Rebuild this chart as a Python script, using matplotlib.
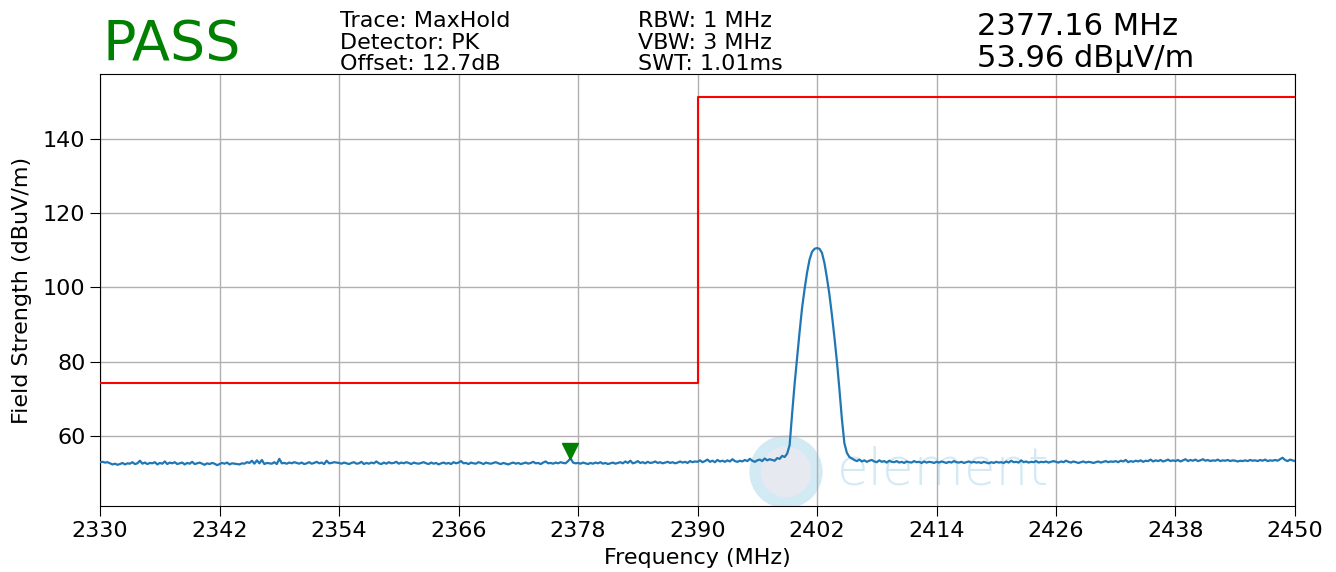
import numpy as np
import matplotlib
matplotlib.use("Agg")
import matplotlib.pyplot as plt
from matplotlib.patches import Ellipse

plt.rcParams['font.family'] = ['DejaVu Sans']

# measured trace, 2330..2450 MHz in 0.25 MHz steps (dBuV/m)
level = [
    52.9, 53.0, 52.8, 52.9, 52.6, 52.3, 52.5, 52.2, 52.4, 52.7, 52.3, 52.6, 52.5, 52.9, 52.4, 52.6,
    53.3, 52.5, 52.8, 52.4, 52.7, 52.6, 52.9, 52.3, 52.7, 52.5, 53.1, 52.4, 52.8, 52.6, 52.9, 52.4,
    52.6, 52.8, 52.3, 52.7, 52.5, 53.0, 52.4, 52.6, 52.8, 52.5, 52.2, 52.6, 52.4, 52.7, 52.5, 52.1,
    52.4, 52.7, 52.5, 52.8, 52.3, 52.6, 52.5, 52.4, 52.3, 52.6, 52.5, 52.9, 52.7, 53.3, 52.5, 53.4,
    52.6, 53.5, 52.4, 52.7, 52.6, 52.5, 52.9, 52.4, 53.8, 52.6, 52.7, 52.5, 52.8, 52.6, 52.9, 52.7,
    52.5, 52.8, 52.4, 52.6, 52.9, 52.5, 52.7, 53.0, 52.6, 52.8, 52.4, 53.3, 52.6, 52.7, 52.9, 52.8,
    52.7, 52.5, 52.8, 52.6, 52.4, 52.7, 52.9, 52.5, 52.6, 53.0, 52.4, 52.7, 52.5, 52.8, 52.6, 53.1,
    52.6, 52.4, 52.8, 52.5, 52.9, 52.6, 52.7, 53.0, 52.5, 52.8, 52.6, 52.9, 52.7, 52.4, 52.8, 52.6,
    52.5, 52.7, 52.9, 52.6, 52.4, 52.8, 52.5, 52.7, 52.3, 52.6, 52.8, 52.5, 52.7, 52.4, 52.9, 52.6,
    52.8, 53.2, 52.6, 52.7, 52.4, 52.8, 52.6, 52.5, 52.9, 52.7, 52.4, 52.8, 52.6, 52.5, 52.7, 52.9,
    52.6, 52.4, 52.7, 52.5, 52.3, 52.6, 52.8, 52.5, 52.7, 52.4, 52.6, 52.8, 52.5, 52.7, 53.0, 52.6,
    52.7, 52.4, 52.8, 53.1, 52.6, 52.7, 52.5, 52.8, 52.6, 52.9, 52.7, 52.6, 53.2, 53.96, 52.8, 52.6,
    52.7, 52.5, 52.8, 52.6, 52.4, 52.7, 52.5, 52.8, 52.6, 52.9, 52.5, 52.7, 52.4, 52.6, 52.8, 52.5,
    52.7, 52.9, 52.6, 53.1, 52.7, 53.3, 52.6, 52.8, 53.2, 52.7, 52.9, 52.6, 53.0, 52.7, 52.8, 53.1,
    52.7, 52.9, 52.6, 52.8, 53.0, 52.7, 52.9, 52.6, 52.8, 53.1, 52.8, 53.0, 52.7, 53.2, 52.9, 53.1,
    53.0, 53.4, 52.9, 53.2, 53.6, 53.0, 53.3, 52.9, 53.5, 53.1, 53.3, 53.0, 53.4, 53.1, 53.7, 53.2,
    53.0, 53.3, 53.1, 53.5, 53.2, 53.8, 53.3, 53.0, 53.4, 53.6, 53.2, 53.9, 53.4, 53.7, 53.5, 53.3,
    54.0, 53.8, 54.6, 54.3, 55.2, 57.5, 66.0, 74.0, 81.0, 88.0, 94.5, 99.5, 104.0, 107.5, 109.6, 110.4,
    110.6, 110.4, 109.3, 106.5, 102.5, 98.0, 92.5, 86.5, 80.0, 72.5, 64.5, 58.0, 55.4, 54.3, 53.9, 53.5,
    53.2, 53.6, 53.1, 53.4, 53.0, 53.3, 53.5, 53.1, 52.9, 53.4, 53.0, 53.2, 52.8, 53.3, 53.0, 52.9,
    53.2, 52.8, 53.0, 52.7, 53.1, 52.9, 52.8, 53.2, 52.9, 53.0, 52.7, 53.1, 52.8, 53.0, 52.9, 52.7,
    53.0, 52.8, 53.1, 52.9, 52.7, 53.0, 52.8, 53.2, 52.9, 52.8, 53.0, 52.7, 52.9, 53.1, 52.8, 53.0,
    52.8, 52.9, 52.7, 53.0, 52.8, 52.6, 52.9, 52.7, 53.0, 52.8, 52.9, 52.7, 53.1, 52.8, 53.3, 52.9,
    53.0, 52.8, 53.4, 52.9, 53.1, 52.8, 53.0, 52.9, 53.2, 52.8, 53.0, 52.9, 53.1, 52.8, 53.0, 53.2,
    53.0, 52.8, 53.1, 52.9, 53.3, 53.0, 52.8, 53.1, 52.9, 52.7, 52.9, 53.1, 52.8, 53.0, 52.9, 52.7,
    52.9, 53.1, 52.8, 53.0, 53.2, 52.9, 53.1, 53.0, 53.2, 52.9, 53.3, 53.1, 53.5, 52.9, 53.2, 53.0,
    53.3, 53.1, 53.4, 53.0, 53.3, 53.2, 53.6, 53.1, 53.4, 53.2, 53.5, 53.1, 53.3, 53.6, 53.2, 53.4,
    53.2, 53.5, 53.1, 53.4, 53.7, 53.2, 53.5, 53.3, 53.6, 53.2, 53.4, 53.7, 53.3, 53.5, 53.2, 53.4,
    53.3, 53.6, 53.2, 53.4, 53.3, 53.5, 53.2, 53.4, 53.3, 53.1, 53.3, 53.2, 53.4, 53.2, 53.5, 53.3,
    53.4, 53.2, 53.5, 53.3, 53.6, 53.2, 53.4, 53.3, 53.5, 53.3, 53.7, 54.1, 53.5, 53.2, 53.6, 53.4,
    53.2,
]
freq = np.linspace(2330, 2450, len(level))

# limit line
limit_freq = [2330, 2390, 2390, 2450]
limit_level = [74.3, 74.3, 151.3, 151.3]

marker_freq = 2377.16
marker_level = 53.96

xticks = [2330, 2342, 2354, 2366, 2378, 2390, 2402, 2414, 2426, 2438, 2450]
yticks = [60, 80, 100, 120, 140]

fig = plt.figure(figsize=(13.36, 5.72), dpi=100)
ax = fig.add_axes([0.0749, 0.1154, 0.8944, 0.7552])

ax.plot(limit_freq, limit_level, color='red', lw=1.5, zorder=3)
ax.plot(freq, level, color='#1f77b4', lw=1.6, zorder=4)
ax.plot([marker_freq], [marker_level + 2.0], marker='v', color='green',
        markersize=11, ls='none', zorder=5)

# watermark logo
ax.add_patch(Ellipse((0.574, 0.079), 0.052, 0.143, transform=ax.transAxes,
                     facecolor='#e6e9f0', edgecolor='#d2eaf4', lw=8, zorder=0.3))
ax.text(0.617, 0.05, 'element', transform=ax.transAxes, fontsize=37,
        color='#d3eaf4', fontweight='light', zorder=0.4, va='baseline')

ax.set_xlim(2330, 2450)
ax.set_ylim(41.1, 157.5)
ax.set_xticks(xticks)
ax.set_yticks(yticks)
ax.tick_params(labelsize=16, length=7)
ax.grid(True, color='#b0b0b0', lw=1.0)
ax.set_axisbelow(True)
ax.set_xlabel('Frequency (MHz)', fontsize=16, labelpad=5)
ax.set_ylabel('Field Strength (dBuV/m)', fontsize=16, labelpad=8)

fig.text(0.077, 0.895, 'PASS', color='green', fontsize=40, va='baseline')
fig.text(0.2545, 0.953, 'Trace: MaxHold', fontsize=16, va='baseline')
fig.text(0.2545, 0.914, 'Detector: PK', fontsize=16, va='baseline')
fig.text(0.2545, 0.877, 'Offset: 12.7dB', fontsize=16, va='baseline')
fig.text(0.4775, 0.953, 'RBW: 1 MHz', fontsize=16, va='baseline')
fig.text(0.4775, 0.914, 'VBW: 3 MHz', fontsize=16, va='baseline')
fig.text(0.4775, 0.877, 'SWT: 1.01ms', fontsize=16, va='baseline')
fig.text(0.7313, 0.9388, '2377.16 MHz', fontsize=22, va='baseline')
fig.text(0.7313, 0.883, '53.96 dBµV/m', fontsize=22, va='baseline')

fig.savefig('out.png', dpi=100)
